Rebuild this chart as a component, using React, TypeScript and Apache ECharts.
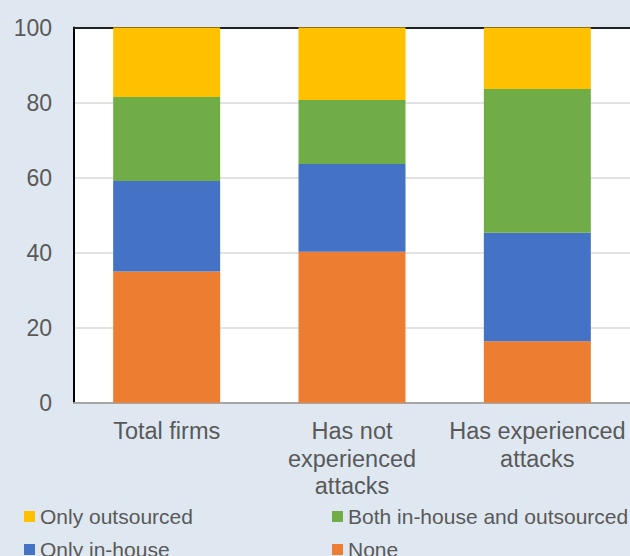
import React, { useEffect, useRef } from "react";
import * as echarts from "echarts";

const categories = ["Total firms", "Has not\nexperienced\nattacks", "Has experienced\nattacks"];
const noneVals = [35.0, 40.2, 16.4];
const inHouseVals = [24.1, 23.4, 28.9];
const bothVals = [22.4, 17.1, 38.3];
const outsourcedVals = [18.5, 19.3, 16.4];
const yTicks = { min: 0, max: 100, interval: 20 };

const FONT = "'Liberation Sans', Arial, sans-serif";
const TEXT = "#595959";

export default function App() {
  const ref = useRef<HTMLDivElement>(null);
  useEffect(() => {
    if (!ref.current) return;
    const chart = echarts.init(ref.current, undefined, { renderer: "svg" });
    const bar = (name: string, data: number[], color: string) => ({
      name,
      type: "bar",
      stack: "total",
      data,
      barWidth: 107,
      itemStyle: { color },
      emphasis: { disabled: true },
    });
    const legendText = { color: TEXT, fontSize: 21, fontFamily: FONT, lineHeight: 21 };
    const legendBase = {
      top: 506,
      height: 80,
      padding: 0,
      orient: "vertical",
      itemGap: 12,
      itemWidth: 11,
      itemHeight: 11,
      icon: "rect",
      textStyle: legendText,
    };
    chart.setOption({
      animation: false,
      backgroundColor: "#DFE8F1",
      textStyle: { fontFamily: FONT },
      grid: { left: 74, top: 27.5, right: -3.5, bottom: 153.3, show: true, backgroundColor: "#FFFFFF", borderWidth: 0 },
      xAxis: [
        {
          type: "category",
          data: categories,
          axisLine: { show: true, lineStyle: { color: "#A6A6A6", width: 2 } },
          axisTick: { show: false },
          axisLabel: { interval: 0, color: TEXT, fontSize: 23.5, lineHeight: 27.5, margin: 15, fontFamily: FONT },
        },
        {
          type: "category",
          position: "top",
          data: categories,
          axisLine: { show: true, lineStyle: { color: "#222222", width: 2 } },
          axisTick: { show: false },
          axisLabel: { show: false },
        },
      ],
      yAxis: {
        type: "value",
        min: yTicks.min,
        max: yTicks.max,
        interval: yTicks.interval,
        axisLine: { show: true, lineStyle: { color: "#000000", width: 2 } },
        axisTick: { show: false },
        axisLabel: { color: TEXT, fontSize: 23, margin: 22, fontFamily: FONT },
        splitLine: { lineStyle: { color: "#D9D9D9", width: 1.5 } },
      },
      legend: [
        { ...legendBase, left: 24, data: ["Only outsourced", "Only in-house"] },
        { ...legendBase, left: 332, data: ["Both in-house and outsourced", "None"] },
      ],
      series: [
        bar("None", noneVals, "#ED7D31"),
        bar("Only in-house", inHouseVals, "#4472C4"),
        bar("Both in-house and outsourced", bothVals, "#70AD47"),
        bar("Only outsourced", outsourcedVals, "#FFC000"),
      ],
    });
    return () => chart.dispose();
  }, []);
  return <div ref={ref} style={{ position: "fixed", left: 0, top: 0, width: 630, height: 556 }} />;
}
